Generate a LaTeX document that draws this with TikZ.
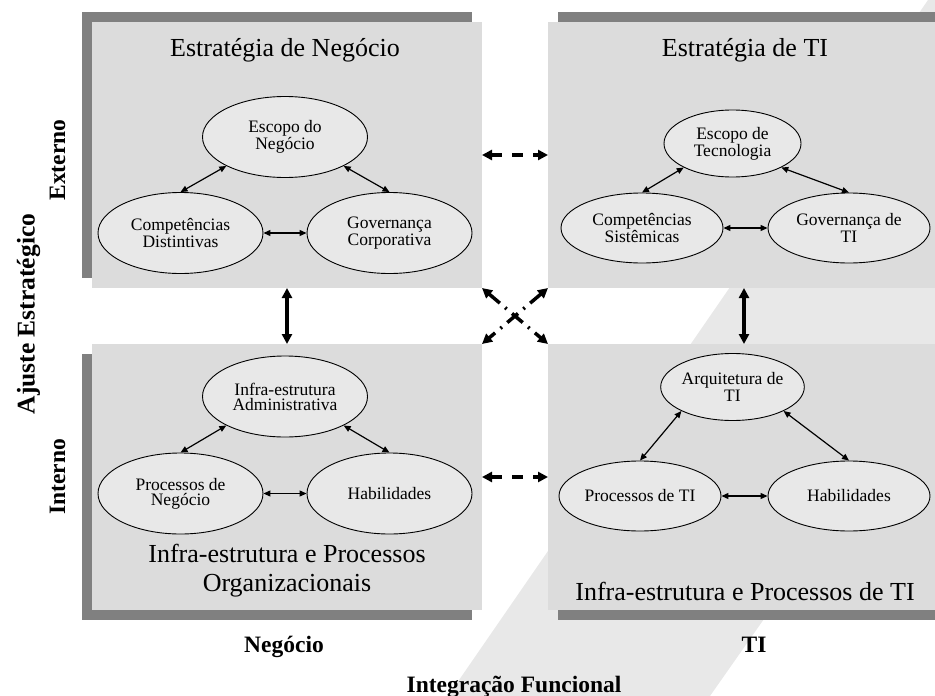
\documentclass[tikz,border=0pt]{standalone}
\usepackage{fontspec}
\setmainfont{Liberation Serif}
\usetikzlibrary{shapes.geometric,arrows.meta}
\definecolor{caixa}{HTML}{DCDCDC}
\definecolor{sombra}{HTML}{808080}
\definecolor{claro}{HTML}{E8E8E8}
\begin{document}
\begin{tikzpicture}[x=1pt,y=-1pt,
  quadro/.style={fill=caixa,minimum height=266pt,inner sep=0pt,outer sep=0pt},
  somb/.style={fill=sombra,minimum height=266pt,inner sep=0pt,outer sep=0pt},
  bolha/.style={ellipse,draw,line width=0.9pt,fill=claro,inner sep=0pt,align=center,
    font=\fontsize{17.5}{15}\selectfont},
  bolhaA/.style={bolha,minimum width=165pt,minimum height=81pt},
  bolhaB/.style={bolha,minimum width=137pt,minimum height=67pt},
  bolhaC/.style={bolha,minimum width=162pt,minimum height=70pt},
  titulo/.style={align=center,font=\fontsize{26}{29}\selectfont},
  rotulo/.style={anchor=base,font=\fontsize{23.5}{26}\selectfont\bfseries},
  seta/.style={{Triangle[length=7pt,width=6pt]}-{Triangle[length=7pt,width=6pt]},line width=1.2pt},
  grossa/.style={{Triangle[length=10pt,width=10pt]}-{Triangle[length=10pt,width=10pt]},line width=3.5pt},
  tracejada/.style={grossa,dash pattern=on 11pt off 10pt},
  pontilhada/.style={grossa,dash pattern=on 14pt off 7pt on 2pt off 7pt}]
\useasboundingbox (0,0) rectangle (935,696);

% faixa diagonal do fundo
\fill[claro] (448,696) -- (928,0) -- (935,0) -- (935,375) -- (710,696) -- cycle;

% quadros com sombra
\foreach \nome/\cx/\cy/\w/\dx/\dy in {negbox/287/155/390/-10/-10, tibox/744/155/392/10/-10,
    infbox/287/477/390/-10/10, infti/744/477/392/10/10}{
  \node[somb,minimum width=\w pt] (\nome-s) at (\cx+\dx,\cy+\dy) {};
  \node[quadro,minimum width=\w pt] (\nome) at (\cx,\cy) {};
}

% titulos
\node[titulo] (testneg) at (285,50) {Estratégia de Negócio};
\node[titulo] (testti) at (745,50) {Estratégia de TI};
\node[titulo] (tinfneg) at (287,571) {Infra-estrutura e Processos\\Organizacionais};
\node[titulo] (tinfti) at (745,591) {Infra-estrutura e Processos de TI};

% estrategia de negocio
\node[bolhaA] (escneg) at (285,137) {Escopo do\\Negócio};
\node[bolhaA] (compneg) at (180.5,233) {Competências\\Distintivas};
\node[bolhaA] (govneg) at (389.5,233) {Governança\\Corporativa};
\draw[seta] (escneg.south west) -- (compneg.north);
\draw[seta] (escneg.south east) -- (govneg.north);
\draw[seta] (compneg.east) -- (govneg.west);

% estrategia de TI
\node[bolhaB] (escti) at (732.5,143.5) {Escopo de\\Tecnologia};
\node[bolhaC] (compti) at (642,228) {Competências\\Sistêmicas};
\node[bolhaC] (govti) at (849,228) {Governança de\\TI};
\draw[seta] (escti.south west) -- (compti.north);
\draw[seta] (escti.south east) -- (govti.north);
\draw[seta] (compti.east) -- (govti.west);

% infra-estrutura organizacional
\node[bolhaA] (adm) at (285,396.5) {Infra-estrutura\\Administrativa};
\node[bolhaA] (procneg) at (180.5,493.5) {Processos de\\Negócio};
\node[bolhaA] (habneg) at (389.5,493.5) {Habilidades};
\draw[seta] (adm.south west) -- (procneg.north);
\draw[seta] (adm.south east) -- (habneg.north);
\draw[seta] (procneg.east) -- (habneg.west);

% infra-estrutura de TI
\node[bolhaB] (arq) at (732.5,387) {Arquitetura de\\TI};
\node[bolhaC] (procti) at (640,496) {Processos de TI};
\node[bolhaC] (habti) at (849,496) {Habilidades};
\draw[seta] (arq.south west) -- (procti.north);
\draw[seta] (arq.south east) -- (habti.north);
\draw[seta] (procti.east) -- (habti.west);

% ligacoes entre quadros
\draw[tracejada] (negbox.east) -- (tibox.west);
\draw[tracejada] (infbox.east) -- (infti.west);
\draw[grossa] (negbox.south) -- (infbox.north);
\draw[grossa] (tibox.south) -- (infti.north);
\draw[pontilhada] (negbox.south east) -- (infti.north west);
\draw[pontilhada] (tibox.south west) -- (infbox.north east);

% rotulos dos eixos
\node[rotulo] (lneg) at (284,652) {Negócio};
\node[rotulo] (lti) at (754,652) {TI};
\node[rotulo] (lint) at (514,692) {Integração Funcional};
\node[rotulo,rotate=90] (lext) at (65,160) {Externo};
\node[rotulo,rotate=90] (linter) at (65,477) {Interno};
\node[rotulo,rotate=90,font=\fontsize{25.5}{28}\selectfont\bfseries] (lajuste) at (34.5,314) {Ajuste Estratégico};
\end{tikzpicture}
\end{document}
